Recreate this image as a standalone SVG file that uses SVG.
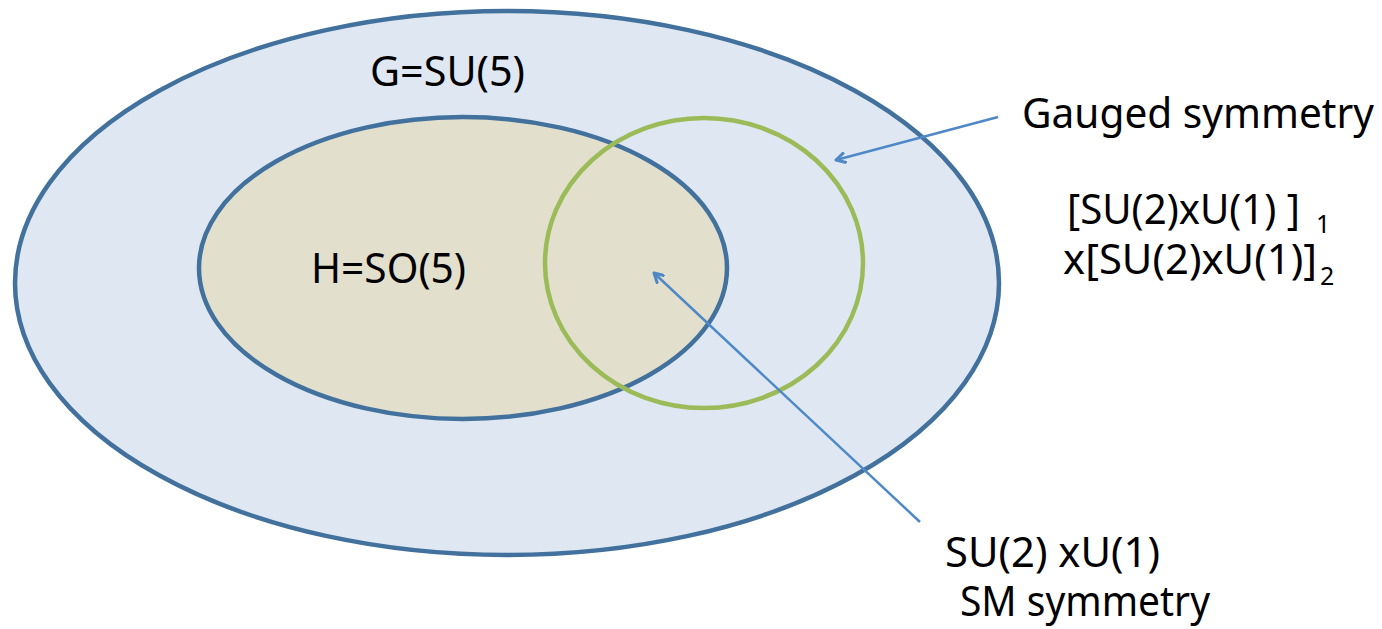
<svg xmlns="http://www.w3.org/2000/svg" width="1382" height="629" viewBox="0 0 1382 629">
<defs>
<style>
.t{font-family:"Noto Sans","Open Sans",sans-serif;font-size:41px;fill:#000}
.b{font-size:42px}
.s{font-family:"Noto Sans","Open Sans",sans-serif;font-size:25px;fill:#000}
.ell{stroke:#41719c;stroke-width:4.5}
.arr{stroke:#4f88c6;stroke-width:2.5;fill:none}
</style>
<marker id="ah" markerWidth="12" markerHeight="12" refX="10" refY="6" orient="auto" markerUnits="userSpaceOnUse" viewBox="0 0 12 12">
<path d="M1,1 L10,6 L1,11" fill="none" stroke="#4f88c6" stroke-width="3" stroke-linecap="round" stroke-linejoin="round"/>
</marker>
</defs>
<rect width="1382" height="629" fill="#fff"/>
<g id="G">
<ellipse class="ell" cx="507" cy="283" rx="492" ry="272" fill="#dfe8f2"/>
<text class="t" x="370" y="86" textLength="155" lengthAdjust="spacingAndGlyphs">G=SU(5)</text>
</g>
<g id="H">
<ellipse class="ell" cx="463" cy="268" rx="264" ry="151" fill="#e2dfcc"/>
<text class="t" x="311" y="283" textLength="155" lengthAdjust="spacingAndGlyphs">H=SO(5)</text>
</g>
<g id="gauged">
<ellipse cx="704" cy="263" rx="159" ry="145" fill="none" stroke="#9bbb59" stroke-width="4.5"/>
</g>
<g id="connectors">
<line class="arr" x1="998" y1="117" x2="836" y2="160" marker-end="url(#ah)"/>
<line class="arr" x1="920" y1="522" x2="654" y2="273" marker-end="url(#ah)"/>
</g>
<g id="label-gauged">
<text class="t" x="1022" y="128" textLength="352" lengthAdjust="spacingAndGlyphs">Gauged symmetry</text>
<text class="t b" x="1067" y="224" textLength="233" lengthAdjust="spacingAndGlyphs">[SU(2)xU(1) ]</text>
<text class="s" x="1316" y="233">1</text>
<text class="t b" x="1063" y="274" textLength="254" lengthAdjust="spacingAndGlyphs">x[SU(2)xU(1)]</text>
<text class="s" x="1320" y="285">2</text>
</g>
<g id="label-sm">
<text class="t" x="945" y="567" textLength="215" lengthAdjust="spacingAndGlyphs">SU(2) xU(1)</text>
<text class="t" x="960" y="616" textLength="250" lengthAdjust="spacingAndGlyphs">SM symmetry</text>
</g>
</svg>
